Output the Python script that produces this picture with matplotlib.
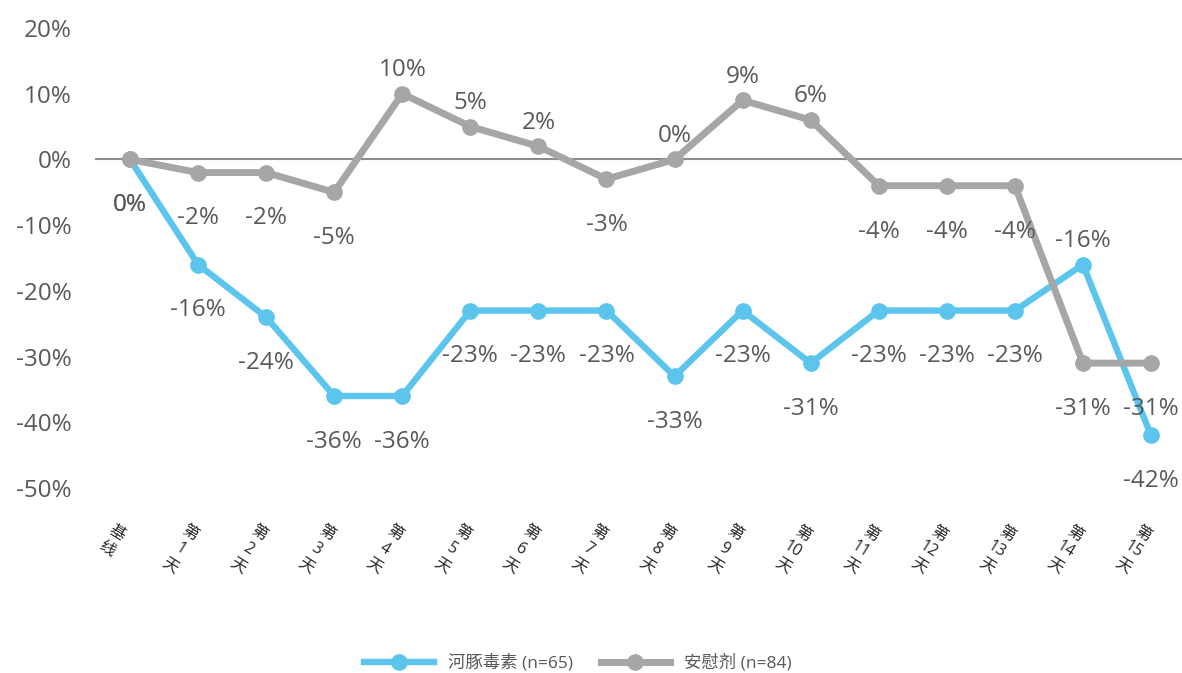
import numpy as np
import matplotlib
matplotlib.use('Agg')
import matplotlib.pyplot as plt
from matplotlib.transforms import ScaledTranslation
from matplotlib.lines import Line2D

plt.rcParams['font.family'] = ['Open Sans', 'Noto Sans CJK SC', 'DejaVu Sans']

# 数据
days = ['基\n线'] + ['第\n%d\n天' % d for d in range(1, 16)]
ttx = [0, -16, -24, -36, -36, -23, -23, -23, -33, -23, -31, -23, -23, -23, -16, -42]
placebo = [0, -2, -2, -5, 10, 5, 2, -3, 0, 9, 6, -4, -4, -4, -31, -31]
series_names = ['河豚毒素 (n=65)', '安慰剂 (n=84)']
yticks = [20, 10, 0, -10, -20, -30, -40, -50]

# 标签放在点的上方还是下方
ttx_side = ['below'] * 14 + ['above', 'below']
placebo_side = ['below', 'below', 'below', 'below', 'above', 'above', 'above', 'below',
                'above', 'above', 'above', 'below', 'below', 'below', 'below', 'below']

blue = '#5BC5EE'
grey = '#A6A6A6'
txt = '#595959'

fig = plt.figure(figsize=(11.82, 6.73), dpi=100)
ax = fig.add_axes([95 / 1182, 1 - 488 / 673, 1087 / 1182, 460 / 673])

x = np.arange(len(days))
ax.axhline(0, color='#8C8C8C', lw=1.5, zorder=1)
ax.plot(x, ttx, color=blue, lw=4.6, marker='o', markersize=11, zorder=3)
ax.plot(x, placebo, color=grey, lw=5, marker='o', markersize=11, zorder=4)

# 数据标签
for vals, sides in [(ttx, ttx_side), (placebo, placebo_side)]:
    for i, (v, s) in enumerate(zip(vals, sides)):
        dy = 17 if s == 'above' else -33
        ax.annotate(f'{v}%', (i, v), xytext=(0, dy), textcoords='offset points',
                    ha='center', va='center', fontsize=17.5, color=txt, zorder=5)

ax.set_xlim(-0.514, 15.455)
ax.set_ylim(-50, 20)
ax.set_yticks(yticks)
ax.set_yticklabels([f'{v}%' for v in yticks], fontsize=17.5, color=txt)
ax.tick_params(axis='y', length=0, pad=17)
ax.set_xticks([])

# x 轴标签：竖排后旋转
shift = ScaledTranslation(-18 / 100, -34 / 100, fig.dpi_scale_trans)
for i, lab in enumerate(days):
    ax.text(i, 0, lab, transform=ax.get_xaxis_transform() + shift,
            rotation=-32, ha='center', va='top', multialignment='center',
            linespacing=1.25, fontsize=11.5, color='#262626')

for sp in ax.spines.values():
    sp.set_visible(False)

handles = [Line2D([], [], color=blue, lw=4.6, marker='o', markersize=11),
           Line2D([], [], color=grey, lw=5, marker='o', markersize=11)]
fig.legend(handles, series_names, loc='center', bbox_to_anchor=(578 / 1182, 1 - 663 / 673),
           ncol=2, frameon=False, fontsize=12.5, handlelength=4.0, columnspacing=1.6,
           handletextpad=0.8, labelcolor=txt)

fig.savefig('out.png', dpi=100)
